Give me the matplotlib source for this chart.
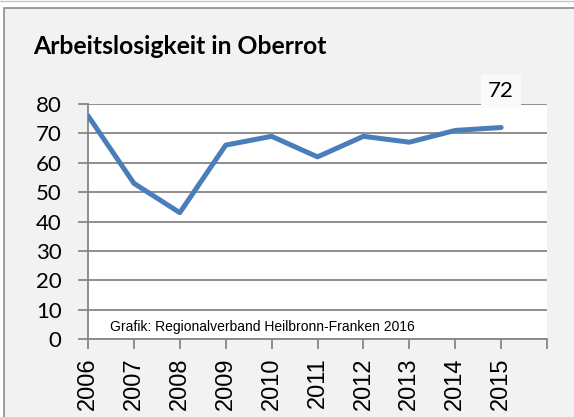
import matplotlib
matplotlib.use("Agg")
import matplotlib.pyplot as plt
from matplotlib.patches import Rectangle
from matplotlib.lines import Line2D

years = ["2006", "2007", "2008", "2009", "2010", "2011", "2012", "2013", "2014", "2015"]
values = [76, 53, 43, 66, 69, 62, 69, 67, 71, 72]
title = "Arbeitslosigkeit in Oberrot"
source = "Grafik: Regionalverband Heilbronn-Franken 2016"

W, H = 574, 417
fig = plt.figure(figsize=(W / 100, H / 100), dpi=100)
fig.patch.set_facecolor("white")

# outer chart frame (cropped screenshot)
fig.patches.append(Rectangle((4 / W, -0.1), 1.2, 1 - 8 / H + 0.1, transform=fig.transFigure,
                             facecolor="#f2f2f2", edgecolor="#8c8c8c", linewidth=1.2, zorder=-5))
fig.lines.append(Line2D([0, 1], [1 - 1 / H, 1 - 1 / H], transform=fig.transFigure,
                        color="#c8c8c8", linewidth=1.0, zorder=-5))

ax = fig.add_axes([88 / W, 1 - 339 / H, (547 - 88) / W, (339 - 104) / H])
ax.set_zorder(2)
ax.set_facecolor("white")

x = list(range(len(years)))
ax.plot(x, values, color="#4a7ebb", linewidth=3.6, solid_capstyle="round", solid_joinstyle="round", zorder=3)

ax.set_xlim(0, len(years))
ax.set_ylim(0, 80)
ax.set_yticks(range(0, 81, 10))
ax.set_xticks(range(0, len(years) + 1))
ax.set_xticklabels(years + [""], rotation=90, fontsize=17, family="Liberation Sans")
ax.set_yticklabels([str(v) for v in range(0, 81, 10)], fontsize=16, family="Lato")
ax.grid(axis="y", color="#868686", linewidth=1.3, zorder=1)
ax.set_axisbelow(True)
for s in ["top", "right"]:
    ax.spines[s].set_visible(False)
for s in ["left", "bottom"]:
    ax.spines[s].set_color("#868686")
    ax.spines[s].set_linewidth(1.3)
ax.tick_params(axis="both", colors="#868686", length=7, width=1.3, labelcolor="black")
ax.tick_params(axis="y", pad=12)
ax.tick_params(axis="x", pad=6)

# data label for last point
ax.annotate(str(values[-1]), xy=(x[-1], values[-1]), xytext=(0, 26), textcoords="offset points",
            ha="center", va="center", fontsize=16, family="Lato",
            bbox=dict(boxstyle="square,pad=0.3", facecolor="#fafafa", edgecolor="none"),
            annotation_clip=False, zorder=5)

ax.text(110 / W, 1 - 327 / H, source, transform=fig.transFigure, fontsize=10,
        family="Liberation Sans", ha="left", va="center", color="black")

fig.text(33 / W, 1 - 46 / H, title, fontsize=17.8, fontweight="bold", family="Lato",
         ha="left", va="center")

fig.savefig("out.png", dpi=100, facecolor=fig.get_facecolor())
